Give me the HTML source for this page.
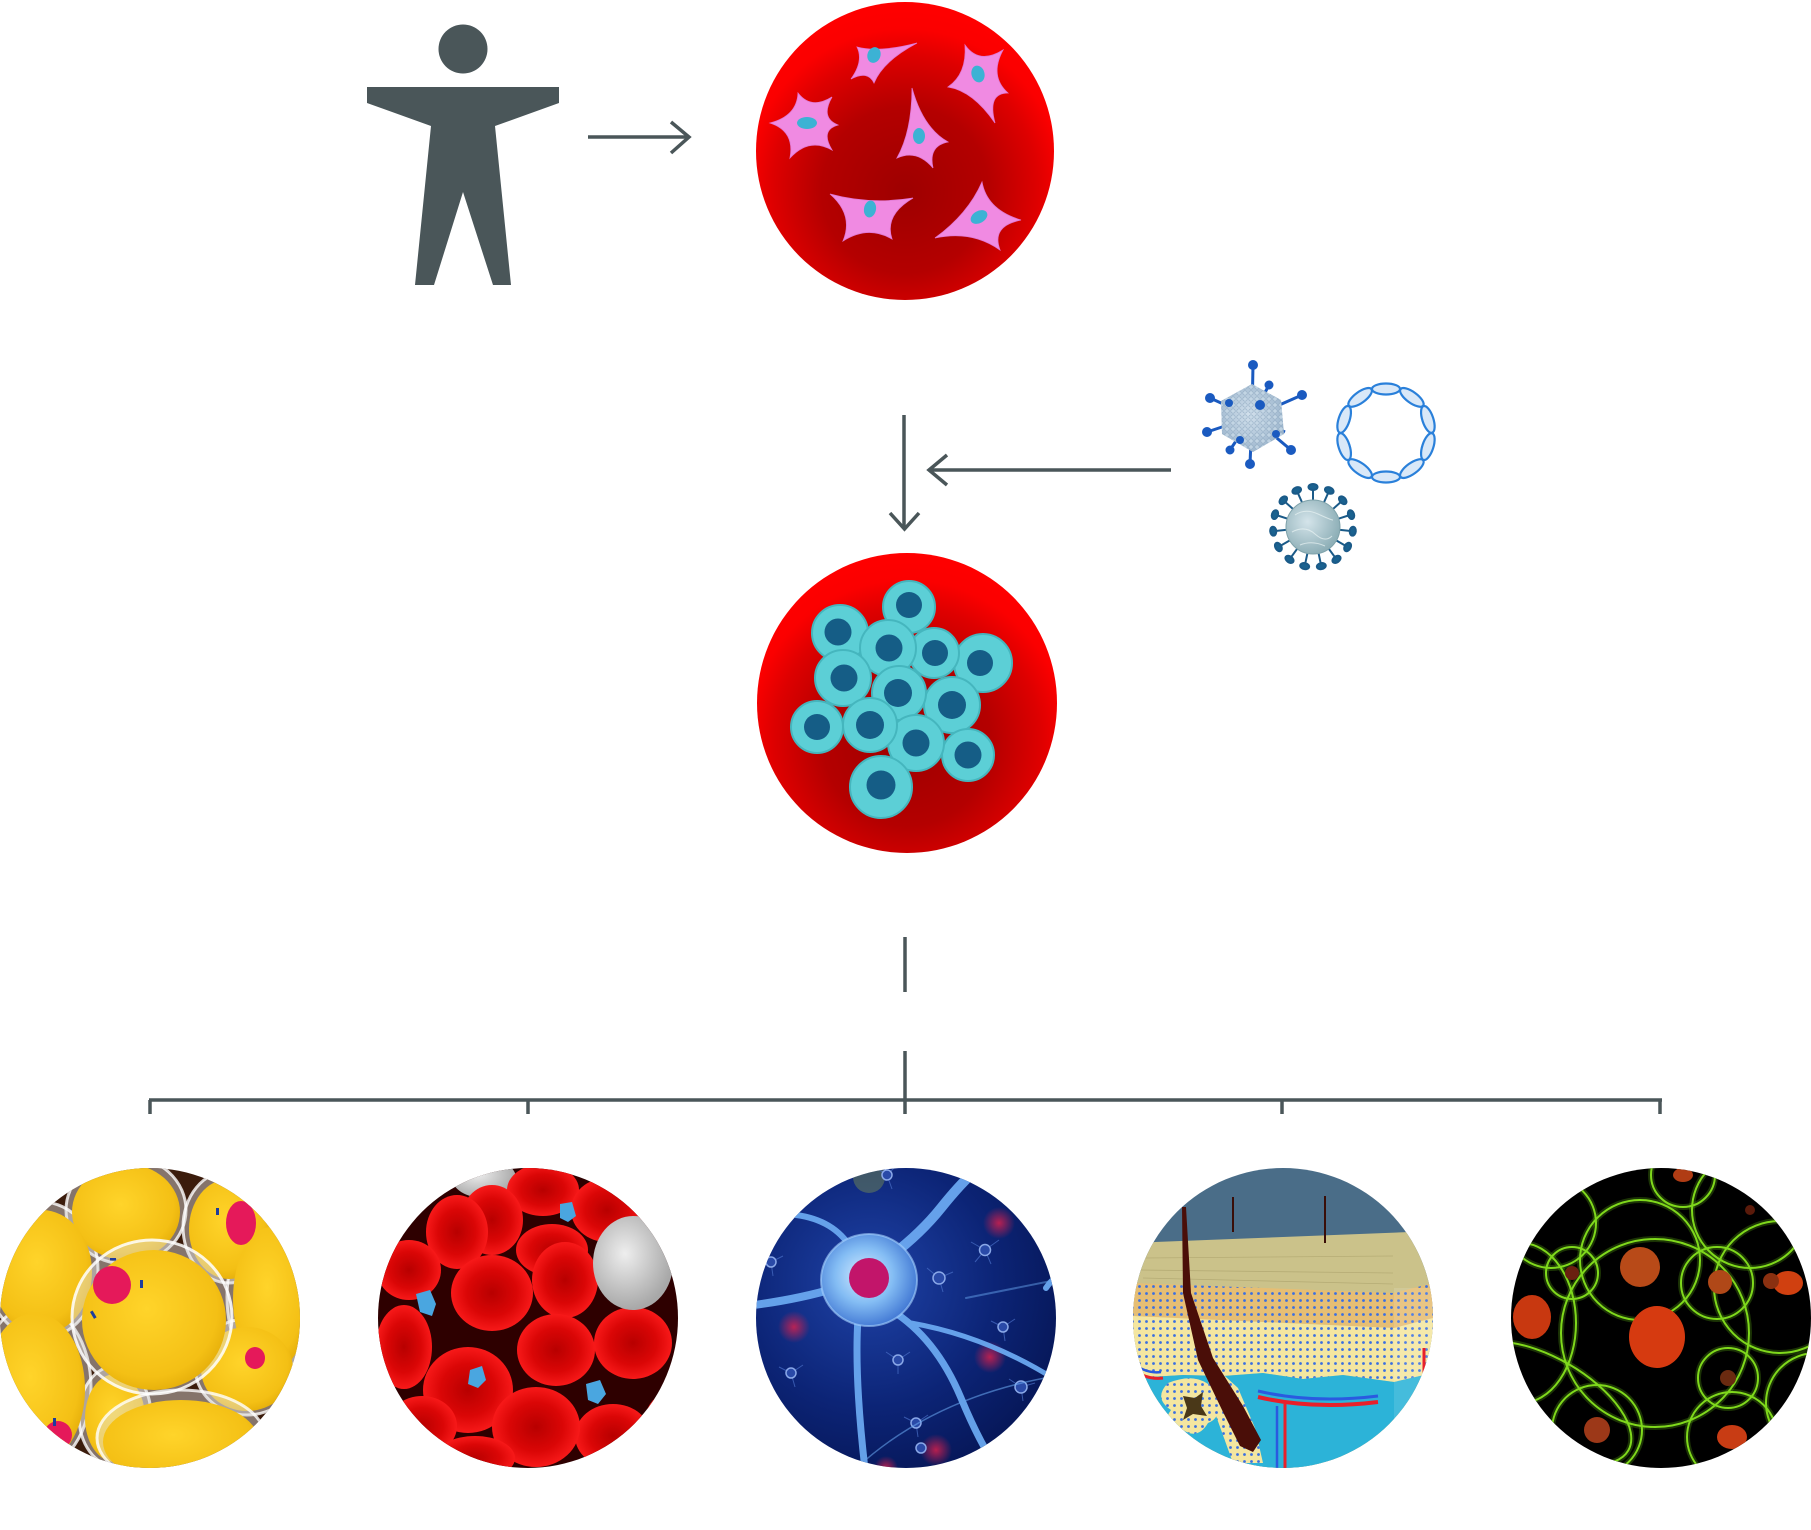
<!DOCTYPE html>
<html><head><meta charset="utf-8"><style>
html,body{margin:0;padding:0;background:#fff;width:1811px;height:1530px;overflow:hidden}
svg{display:block}
</style></head><body>
<svg width="1811" height="1530" viewBox="0 0 1811 1530" xmlns="http://www.w3.org/2000/svg">
<defs>
 <radialGradient id="redsphere" cx="0.5" cy="0.62" r="0.62" fx="0.5" fy="0.64">
  <stop offset="0" stop-color="#9e0000"/><stop offset="0.45" stop-color="#b40000"/>
  <stop offset="0.72" stop-color="#de0000"/><stop offset="0.86" stop-color="#fb0000"/><stop offset="1" stop-color="#ff0000"/>
 </radialGradient>
 <clipPath id="cc"><circle cx="0" cy="0" r="150"/></clipPath>
 <pattern id="dots" width="7" height="7" patternUnits="userSpaceOnUse"><circle cx="3.5" cy="3.5" r="1.4" fill="#3b6fe0"/></pattern>
 <radialGradient id="yel" cx="0.45" cy="0.42" r="0.65"><stop offset="0" stop-color="#ffd42a"/><stop offset="0.75" stop-color="#f4c015"/><stop offset="1" stop-color="#e0a806"/></radialGradient>
 <radialGradient id="rbc" cx="0.5" cy="0.5" r="0.55"><stop offset="0" stop-color="#b80000"/><stop offset="0.55" stop-color="#da0606"/><stop offset="1" stop-color="#ff1e1e"/></radialGradient>
 <radialGradient id="wbc" cx="0.4" cy="0.4" r="0.6"><stop offset="0" stop-color="#eeeeee"/><stop offset="1" stop-color="#a8a8a8"/></radialGradient>
 <radialGradient id="nbg" cx="0.38" cy="0.38" r="0.7"><stop offset="0" stop-color="#1f43a8"/><stop offset="0.6" stop-color="#0c2476"/><stop offset="1" stop-color="#061656"/></radialGradient>
 <radialGradient id="soma" cx="0.45" cy="0.45" r="0.6"><stop offset="0" stop-color="#d6ecff"/><stop offset="0.5" stop-color="#84bdf4"/><stop offset="1" stop-color="#3a70d0"/></radialGradient>
 <radialGradient id="glow" cx="0.5" cy="0.5" r="0.5"><stop offset="0" stop-color="#e0204a" stop-opacity="0.8"/><stop offset="1" stop-color="#e0204a" stop-opacity="0"/></radialGradient>
 <radialGradient id="vir" cx="0.4" cy="0.4" r="0.6"><stop offset="0" stop-color="#d4e4ea"/><stop offset="1" stop-color="#8fb0b8"/></radialGradient>
 <radialGradient id="adv" cx="0.45" cy="0.45" r="0.6"><stop offset="0" stop-color="#d2e0ec"/><stop offset="1" stop-color="#9ab4cc"/></radialGradient>
 <pattern id="advdots" width="6" height="6" patternUnits="userSpaceOnUse"><circle cx="3" cy="3" r="2.2" fill="#c6d8e6" stroke="#8aa4bc" stroke-width="0.6"/></pattern>
</defs>

<!-- Human figure -->
<circle cx="463" cy="49" r="24.5" fill="#4a5659"/>
<polygon points="367,87 559,87 559,103 495,126 511,285 493,285 463,192 434,285 415,285 431,126 367,103" fill="#4a5659"/>

<g stroke="#4a5659" stroke-width="3.5" fill="none">
 <line x1="588" y1="137" x2="689" y2="137"/>
 <polyline points="671,122 689,137 671,153"/>
 <line x1="904" y1="415" x2="904" y2="528"/>
 <polyline points="890,513 904.5,529 919,513"/>
 <line x1="930" y1="470" x2="1171" y2="470"/>
 <polyline points="947,455 929,470 947,485"/>
 <line x1="905" y1="937" x2="905" y2="992"/>
 <line x1="905" y1="1051" x2="905" y2="1100"/>
 <line x1="149" y1="1100" x2="1662" y2="1100"/>
 <line x1="150" y1="1100" x2="150" y2="1114"/>
 <line x1="528" y1="1100" x2="528" y2="1114"/>
 <line x1="905" y1="1100" x2="905" y2="1114"/>
 <line x1="1282" y1="1100" x2="1282" y2="1114"/>
 <line x1="1660" y1="1100" x2="1660" y2="1114"/>
</g>

<!-- top red sphere with stem cells -->
<circle cx="905" cy="151" r="149" fill="url(#redsphere)"/>
<g fill="#f08ae2" stroke="#e078d4" stroke-width="0.8">
 <path d="M857 47 Q879 53 917 43 Q883 61 874 83 Q868 70 851 79 Q864 61 857 47Z"/>
 <path d="M965 45 Q979 65 1003 50 Q989 76 1008 93 Q987 93 995 123 Q973 91 948 87 Q967 74 965 45Z"/>
 <path d="M798 93 Q811 110 832 97 Q820 118 838 125 Q820 130 832 150 Q809 137 790 158 Q795 131 770 123 Q797 116 798 93Z"/>
 <path d="M912 88 Q923 128 948 142 Q928 146 933 168 Q917 149 897 158 Q912 131 912 88Z"/>
 <path d="M830 194 Q870 205 913 198 Q884 215 892 239 Q868 225 843 241 Q854 215 830 194Z"/>
 <path d="M982 182 Q987 210 1021 220 Q991 226 1000 250 Q972 230 935 238 Q968 214 982 182Z"/>
</g>
<g fill="#3cb2d4">
 <ellipse cx="874" cy="55" rx="6.5" ry="8" transform="rotate(20 874 55)"/>
 <ellipse cx="978" cy="74" rx="6.5" ry="8.5" transform="rotate(-15 978 74)"/>
 <ellipse cx="807" cy="123" rx="10" ry="6"/>
 <ellipse cx="919" cy="136" rx="6" ry="8"/>
 <ellipse cx="870" cy="209" rx="6" ry="8.5" transform="rotate(10 870 209)"/>
 <ellipse cx="979" cy="217" rx="9" ry="6" transform="rotate(-30 979 217)"/>
</g>

<!-- second red sphere with cyan cells -->
<circle cx="907" cy="703" r="150" fill="url(#redsphere)"/>
<g fill="#5ccfd6" stroke="#45b6be" stroke-width="2">
 <circle cx="909" cy="607" r="26"/>
 <circle cx="840" cy="633" r="28"/>
 <circle cx="983" cy="663" r="29"/>
 <circle cx="934" cy="653" r="25"/>
 <circle cx="888" cy="648" r="28"/>
 <circle cx="843" cy="678" r="28"/>
 <circle cx="952" cy="705" r="28"/>
 <circle cx="899" cy="693" r="27"/>
 <circle cx="817" cy="727" r="26"/>
 <circle cx="968" cy="755" r="26"/>
 <circle cx="916" cy="743" r="28"/>
 <circle cx="870" cy="725" r="27"/>
 <circle cx="881" cy="787" r="31"/>
</g>
<g fill="#155d86">
 <circle cx="909" cy="605" r="13"/>
 <circle cx="838" cy="632" r="13.5"/>
 <circle cx="980" cy="663" r="13"/>
 <circle cx="935" cy="653" r="13"/>
 <circle cx="889" cy="648" r="13.5"/>
 <circle cx="844" cy="678" r="13.5"/>
 <circle cx="952" cy="705" r="14"/>
 <circle cx="898" cy="693" r="14"/>
 <circle cx="817" cy="727" r="13"/>
 <circle cx="968" cy="755" r="13.5"/>
 <circle cx="916" cy="743" r="13.5"/>
 <circle cx="870" cy="725" r="14"/>
 <circle cx="881" cy="785" r="14.5"/>
</g>

<!-- adenovirus -->
<g stroke="#1a5ac0" stroke-width="3" fill="#1a5ac0">
 <line x1="1252" y1="417" x2="1253" y2="365"/><circle cx="1253" cy="365" r="3.5"/>
 <line x1="1252" y1="417" x2="1302" y2="395"/><circle cx="1302" cy="395" r="3.5"/>
 <line x1="1252" y1="417" x2="1291" y2="450"/><circle cx="1291" cy="450" r="3.5"/>
 <line x1="1252" y1="417" x2="1250" y2="464"/><circle cx="1250" cy="464" r="3.5"/>
 <line x1="1252" y1="417" x2="1207" y2="432"/><circle cx="1207" cy="432" r="3.5"/>
 <line x1="1252" y1="417" x2="1210" y2="398"/><circle cx="1210" cy="398" r="3.5"/>
 <line x1="1252" y1="417" x2="1269" y2="385"/><circle cx="1269" cy="385" r="3"/>
 <line x1="1252" y1="417" x2="1230" y2="450"/><circle cx="1230" cy="450" r="3"/>
 <line x1="1252" y1="417" x2="1285" y2="432"/>
</g>
<polygon points="1252,384 1281,400 1284,434 1253,452 1222,434 1221,401" fill="url(#adv)"/>
<polygon points="1252,384 1281,400 1284,434 1253,452 1222,434 1221,401" fill="url(#advdots)" opacity="0.8"/>
<g fill="#1a5ac0"><circle cx="1260" cy="405" r="5"/><circle cx="1229" cy="403" r="4"/><circle cx="1276" cy="434" r="4"/><circle cx="1240" cy="440" r="4"/></g>

<!-- DNA plasmid ring -->
<g fill="rgba(42,127,216,0.18)" stroke="#2a80da" stroke-width="2.2">
 <ellipse cx="1386" cy="389" rx="14" ry="5.5" transform="rotate(0 1386 433)"/>
 <ellipse cx="1386" cy="389" rx="14" ry="5.5" transform="rotate(36 1386 433)"/>
 <ellipse cx="1386" cy="389" rx="14" ry="5.5" transform="rotate(72 1386 433)"/>
 <ellipse cx="1386" cy="389" rx="14" ry="5.5" transform="rotate(108 1386 433)"/>
 <ellipse cx="1386" cy="389" rx="14" ry="5.5" transform="rotate(144 1386 433)"/>
 <ellipse cx="1386" cy="389" rx="14" ry="5.5" transform="rotate(180 1386 433)"/>
 <ellipse cx="1386" cy="389" rx="14" ry="5.5" transform="rotate(216 1386 433)"/>
 <ellipse cx="1386" cy="389" rx="14" ry="5.5" transform="rotate(252 1386 433)"/>
 <ellipse cx="1386" cy="389" rx="14" ry="5.5" transform="rotate(288 1386 433)"/>
 <ellipse cx="1386" cy="389" rx="14" ry="5.5" transform="rotate(324 1386 433)"/>
</g>

<!-- second virus -->
<g stroke="#1a5a88" stroke-width="2" fill="#1a6290">
 <g transform="translate(1313 527)">
  <g><line x1="0" y1="-26" x2="0" y2="-38"/><ellipse cx="0" cy="-40" rx="4.5" ry="3"/></g>
  <g transform="rotate(24)"><line x1="0" y1="-26" x2="0" y2="-38"/><ellipse cx="0" cy="-40" rx="4.5" ry="3"/></g>
  <g transform="rotate(48)"><line x1="0" y1="-26" x2="0" y2="-38"/><ellipse cx="0" cy="-40" rx="4.5" ry="3"/></g>
  <g transform="rotate(72)"><line x1="0" y1="-26" x2="0" y2="-38"/><ellipse cx="0" cy="-40" rx="4.5" ry="3"/></g>
  <g transform="rotate(96)"><line x1="0" y1="-26" x2="0" y2="-38"/><ellipse cx="0" cy="-40" rx="4.5" ry="3"/></g>
  <g transform="rotate(120)"><line x1="0" y1="-26" x2="0" y2="-38"/><ellipse cx="0" cy="-40" rx="4.5" ry="3"/></g>
  <g transform="rotate(144)"><line x1="0" y1="-26" x2="0" y2="-38"/><ellipse cx="0" cy="-40" rx="4.5" ry="3"/></g>
  <g transform="rotate(168)"><line x1="0" y1="-26" x2="0" y2="-38"/><ellipse cx="0" cy="-40" rx="4.5" ry="3"/></g>
  <g transform="rotate(192)"><line x1="0" y1="-26" x2="0" y2="-38"/><ellipse cx="0" cy="-40" rx="4.5" ry="3"/></g>
  <g transform="rotate(216)"><line x1="0" y1="-26" x2="0" y2="-38"/><ellipse cx="0" cy="-40" rx="4.5" ry="3"/></g>
  <g transform="rotate(240)"><line x1="0" y1="-26" x2="0" y2="-38"/><ellipse cx="0" cy="-40" rx="4.5" ry="3"/></g>
  <g transform="rotate(264)"><line x1="0" y1="-26" x2="0" y2="-38"/><ellipse cx="0" cy="-40" rx="4.5" ry="3"/></g>
  <g transform="rotate(288)"><line x1="0" y1="-26" x2="0" y2="-38"/><ellipse cx="0" cy="-40" rx="4.5" ry="3"/></g>
  <g transform="rotate(312)"><line x1="0" y1="-26" x2="0" y2="-38"/><ellipse cx="0" cy="-40" rx="4.5" ry="3"/></g>
  <g transform="rotate(336)"><line x1="0" y1="-26" x2="0" y2="-38"/><ellipse cx="0" cy="-40" rx="4.5" ry="3"/></g>
 </g>
</g>
<circle cx="1313" cy="527" r="27" fill="url(#vir)" stroke="#7fa2aa" stroke-width="1"/>
<g fill="none" stroke="#eaf4f4" stroke-width="1" opacity="0.7">
 <path d="M1295 515 Q1305 508 1318 514 T1333 520"/><path d="M1292 532 Q1305 525 1315 534 T1332 536"/><path d="M1300 545 Q1312 540 1325 546"/>
</g>

<!-- Bottom circle 1: fat cells -->
<g transform="translate(150 1318)" clip-path="url(#cc)">
 <rect x="-150" y="-150" width="300" height="300" fill="#3b1c0c"/>
 <g stroke="rgba(255,255,255,0.8)" stroke-width="3" fill="rgba(225,225,225,0.45)">
  <ellipse cx="-24" cy="-108" rx="60" ry="54"/>
  <ellipse cx="79" cy="-91" rx="46" ry="56"/>
  <ellipse cx="-108" cy="-48" rx="56" ry="68"/>
  <ellipse cx="121" cy="-21" rx="44" ry="78"/>
  <ellipse cx="-115" cy="69" rx="56" ry="82"/>
  <ellipse cx="-35" cy="98" rx="36" ry="50"/>
  <ellipse cx="97" cy="49" rx="52" ry="48"/>
 </g>
 <g fill="url(#yel)">
  <ellipse cx="-24" cy="-106" rx="54" ry="48"/>
  <ellipse cx="79" cy="-89" rx="40" ry="50"/>
  <ellipse cx="-108" cy="-46" rx="50" ry="62"/>
  <ellipse cx="121" cy="-19" rx="38" ry="72"/>
  <ellipse cx="-115" cy="71" rx="50" ry="76"/>
  <ellipse cx="-35" cy="100" rx="30" ry="44"/>
  <ellipse cx="97" cy="51" rx="46" ry="42"/>
 </g>
 <ellipse cx="91" cy="-95" rx="15" ry="22" fill="#e5195a"/>
 <ellipse cx="105" cy="40" rx="10" ry="11" fill="#e5195a"/>
 <ellipse cx="-92" cy="117" rx="14" ry="14" fill="#e5195a"/>
 <ellipse cx="31" cy="120" rx="84" ry="48" fill="rgba(225,225,225,0.45)" stroke="rgba(255,255,255,0.8)" stroke-width="3"/>
 <ellipse cx="31" cy="124" rx="78" ry="42" fill="url(#yel)"/>
 <ellipse cx="2" cy="-1" rx="80" ry="77" fill="rgba(225,225,225,0.45)" stroke="rgba(255,255,255,0.85)" stroke-width="3"/>
 <ellipse cx="4" cy="2" rx="72" ry="70" fill="url(#yel)"/>
 <circle cx="-38" cy="-33" r="19" fill="#e5195a"/>
 <g fill="#1e3c9c">
  <rect x="-60" y="-6" width="3" height="8" transform="rotate(-30 -60 -6)"/>
  <rect x="-10" y="-38" width="3" height="8"/>
  <rect x="66" y="-110" width="3" height="7"/>
  <rect x="-97" y="100" width="3" height="8"/>
  <rect x="-40" y="-60" width="6" height="2.5"/>
 </g>
</g>

<!-- Bottom circle 2: blood -->
<g transform="translate(528 1318)" clip-path="url(#cc)">
 <rect x="-150" y="-150" width="300" height="300" fill="#2e0000"/>
 <ellipse cx="-44" cy="-140" rx="32" ry="20" fill="url(#wbc)"/>
 <g fill="url(#rbc)">
  <ellipse cx="15" cy="-128" rx="36" ry="26"/>
  <ellipse cx="79" cy="-108" rx="36" ry="32"/>
  <ellipse cx="-36" cy="-98" rx="31" ry="35"/>
  <ellipse cx="-71" cy="-86" rx="31" ry="37"/>
  <ellipse cx="24" cy="-68" rx="36" ry="26"/>
  <ellipse cx="-119" cy="-48" rx="32" ry="30"/>
  <ellipse cx="37" cy="-38" rx="33" ry="38"/>
  <ellipse cx="-36" cy="-25" rx="41" ry="38"/>
  <ellipse cx="-124" cy="29" rx="28" ry="42"/>
  <ellipse cx="105" cy="25" rx="39" ry="36"/>
  <ellipse cx="28" cy="32" rx="39" ry="36"/>
  <ellipse cx="-60" cy="72" rx="45" ry="43"/>
  <ellipse cx="-106" cy="108" rx="35" ry="30"/>
  <ellipse cx="138" cy="108" rx="22" ry="32"/>
  <ellipse cx="85" cy="118" rx="38" ry="32"/>
  <ellipse cx="8" cy="109" rx="44" ry="40"/>
  <ellipse cx="-53" cy="140" rx="40" ry="22"/>
 </g>
 <ellipse cx="105" cy="-55" rx="40" ry="47" fill="url(#wbc)"/>
 <g fill="#4aa6e0">
  <polygon points="-112,-24 -98,-28 -92,-14 -96,-2 -108,-6"/>
  <polygon points="-58,52 -46,48 -42,62 -50,70 -60,66"/>
  <polygon points="58,66 72,62 78,76 70,86 60,82"/>
  <polygon points="32,-114 44,-116 48,-102 40,-96 32,-100"/>
 </g>
</g>

<!-- Bottom circle 3: neuron -->
<g transform="translate(906 1318)" clip-path="url(#cc)">
 <rect x="-150" y="-150" width="300" height="300" fill="url(#nbg)"/>
 <circle cx="-37" cy="-141" r="16" fill="#9ab040" opacity="0.35"/>
 <g fill="url(#glow)">
  <circle cx="93" cy="-95" r="16"/><circle cx="-112" cy="9" r="16"/><circle cx="84" cy="39" r="16"/><circle cx="30" cy="132" r="16"/><circle cx="-20" cy="150" r="12"/>
 </g>
 <g stroke="#4a70c8" stroke-width="1" fill="none" opacity="0.7">
  <path d="M-19 -143 l-15 -10 M-19 -143 l12 -12 M-19 -143 l5 14"/>
  <path d="M79 -68 l-14 -8 M79 -68 l14 -10 M79 -68 l6 14 M79 -68 l-10 12"/>
  <path d="M33 -40 l-12 -10 M33 -40 l14 -6 M33 -40 l4 14"/>
  <path d="M-135 -56 l-10 -10 M-135 -56 l12 -6 M-135 -56 l2 14"/>
  <path d="M-8 42 l-12 -8 M-8 42 l12 -8 M-8 42 l0 14"/>
  <path d="M-115 55 l-12 -6 M-115 55 l12 -8 M-115 55 l4 14"/>
  <path d="M115 69 l-12 -8 M115 69 l14 -4 M115 69 l2 14"/>
  <path d="M10 105 l-12 -6 M10 105 l12 -8 M10 105 l2 14"/>
  <path d="M97 9 l-12 -6 M97 9 l12 -8 M97 9 l2 14"/>
 </g>
 <g fill="#2a4aa8" stroke="#8aa8e8" stroke-width="1.5">
  <circle cx="-19" cy="-143" r="5"/><circle cx="79" cy="-68" r="5.5"/><circle cx="33" cy="-40" r="6"/><circle cx="-135" cy="-56" r="5"/>
  <circle cx="-8" cy="42" r="5"/><circle cx="-115" cy="55" r="5"/><circle cx="115" cy="69" r="6"/><circle cx="10" cy="105" r="5"/><circle cx="15" cy="130" r="5"/><circle cx="97" cy="9" r="5"/>
 </g>
 <g fill="none" stroke="#6aa8f0" stroke-linecap="round" opacity="0.95">
  <path d="M-15 -62 Q15 -85 35 -110 T72 -150" stroke-width="10"/>
  <path d="M-70 -30 Q-110 -18 -160 -12" stroke-width="8"/>
  <path d="M-55 -70 Q-72 -98 -110 -103" stroke-width="6"/>
  <path d="M-48 0 Q-52 60 -40 160" stroke-width="7"/>
  <path d="M-15 -8 Q30 20 55 80 T100 160" stroke-width="7"/>
  <path d="M5 5 Q80 18 150 62" stroke-width="5"/>
  <path d="M-60 160 Q20 80 150 58" stroke-width="1.5" opacity="0.6"/>
  <path d="M60 -20 Q110 -30 160 -40" stroke-width="2" opacity="0.5"/>
  <path d="M140 -30 Q150 -45 160 -40" stroke-width="6"/>
 </g>
 <ellipse cx="-37" cy="-38" rx="48" ry="46" fill="url(#soma)" stroke="#a8d4ff" stroke-width="2" stroke-opacity="0.6"/>
 <circle cx="-37" cy="-40" r="20" fill="#c2156a"/>
</g>

<!-- Bottom circle 4: skin -->
<g transform="translate(1283 1318)" clip-path="url(#cc)">
 <rect x="-150" y="-150" width="300" height="300" fill="#4a6d88"/>
 <polygon points="-150,-72 -128,-76 127,-86 150,-82 150,150 -150,150" fill="#cbc28a"/>
 <g stroke="#a89e68" stroke-width="0.8" opacity="0.6">
  <line x1="-140" y1="-60" x2="110" y2="-62"/><line x1="-145" y1="-48" x2="110" y2="-45"/><line x1="-140" y1="-40" x2="110" y2="-34"/>
 </g>
 <polygon points="-150,-35 111,-25 150,-35 150,10 111,10 -150,-2" fill="#e6be74"/>
 <polygon points="-150,-35 111,-25 150,-35 150,10 111,10 -150,-2" fill="url(#dots)"/>
 <polygon points="-150,-2 111,10 150,0 150,55 111,64 60,57 20,61 -20,55 -60,58 -100,57 -150,60" fill="#f4e6a0"/>
 <polygon points="-150,-2 111,10 150,0 150,55 111,64 60,57 20,61 -20,55 -60,58 -100,57 -150,60" fill="url(#dots)"/>
 <polygon points="-150,60 -100,57 -60,58 -20,55 20,61 60,57 111,64 150,55 150,150 -150,150" fill="#2cb3d8"/>
 <rect x="111" y="-30" width="40" height="180" fill="#ffffff" opacity="0.12"/>
 <path d="M-115 65 Q-130 80 -112 92 Q-125 110 -100 112 Q-85 122 -75 105 Q-62 100 -66 85 Q-58 70 -75 66 Q-90 55 -115 65Z" fill="#f4e6a0"/>
 <path d="M-115 65 Q-130 80 -112 92 Q-125 110 -100 112 Q-85 122 -75 105 Q-62 100 -66 85 Q-58 70 -75 66 Q-90 55 -115 65Z" fill="url(#dots)"/>
 <path d="M-100 78 L-88 80 L-80 74 L-82 88 L-76 98 L-90 96 L-100 102 L-96 90Z" fill="#4a3818"/>
 <polygon points="-80,38 -45,70 -28,110 -20,145 -50,145 -68,95" fill="#f4e6a0"/>
 <polygon points="-80,38 -45,70 -28,110 -20,145 -50,145 -68,95" fill="url(#dots)"/>
 <polygon points="-101,-111 -100,-25 -85,42 -60,94 -43,128 -30,134 -22,122 -40,88 -70,40 -92,-25 -97,-111" fill="#4a0e08"/>
 <line x1="-50" y1="-121" x2="-50" y2="-86" stroke="#3a0e08" stroke-width="2"/>
 <line x1="42" y1="-122" x2="42" y2="-75" stroke="#3a0e08" stroke-width="2"/>
 <path d="M-25 73 Q30 86 95 78" fill="none" stroke="#2a5ae0" stroke-width="3"/>
 <path d="M-25 79 Q30 92 95 84" fill="none" stroke="#e8202a" stroke-width="4"/>
 <line x1="2" y1="86" x2="2" y2="150" stroke="#e8202a" stroke-width="3"/>
 <line x1="-6" y1="88" x2="-6" y2="150" stroke="#2a5ae0" stroke-width="2.5"/>
 <path d="M-150 52 Q-135 62 -120 60" fill="none" stroke="#e8202a" stroke-width="3"/>
 <path d="M-150 46 Q-135 56 -122 54" fill="none" stroke="#2a5ae0" stroke-width="2.5"/>
 <line x1="141" y1="30" x2="141" y2="70" stroke="#e8202a" stroke-width="3"/>
</g>

<!-- Bottom circle 5: green cells -->
<g transform="translate(1661 1318)" clip-path="url(#cc)">
 <rect x="-150" y="-150" width="300" height="300" fill="#000"/>
 <g fill="none" stroke="#5aaa10" stroke-width="6" stroke-opacity="0.3">
  <circle cx="89" cy="-108" r="58"/><circle cx="22" cy="-143" r="32"/><circle cx="119" cy="-31" r="66"/>
  <ellipse cx="-140" cy="5" rx="55" ry="80"/><circle cx="-110" cy="-95" r="45"/><circle cx="-89" cy="-45" r="26"/>
  <circle cx="-21" cy="-58" r="60"/><circle cx="56" cy="-35" r="36"/><circle cx="-6" cy="15" r="94"/>
  <circle cx="-64" cy="112" r="45"/><circle cx="67" cy="60" r="30"/><circle cx="71" cy="119" r="45"/>
  <ellipse cx="-115" cy="85" rx="95" ry="45" transform="rotate(30 -115 85)"/><circle cx="155" cy="85" r="50"/>
 </g>
 <g fill="none" stroke="#7fd81c" stroke-width="2">
  <circle cx="89" cy="-108" r="58"/><circle cx="22" cy="-143" r="32"/><circle cx="119" cy="-31" r="66"/>
  <ellipse cx="-140" cy="5" rx="55" ry="80"/><circle cx="-110" cy="-95" r="45"/><circle cx="-89" cy="-45" r="26"/>
  <circle cx="-21" cy="-58" r="60"/><circle cx="56" cy="-35" r="36"/><circle cx="-6" cy="15" r="94"/>
  <circle cx="-64" cy="112" r="45"/><circle cx="67" cy="60" r="30"/><circle cx="71" cy="119" r="45"/>
  <ellipse cx="-115" cy="85" rx="95" ry="45" transform="rotate(30 -115 85)"/><circle cx="155" cy="85" r="50"/>
 </g>
 <ellipse cx="-4" cy="19" rx="28" ry="31" fill="#d63a10"/>
 <circle cx="-21" cy="-51" r="20" fill="#b84a18"/>
 <circle cx="59" cy="-36" r="12" fill="#b04818"/>
 <ellipse cx="127" cy="-35" rx="15" ry="12" fill="#d04010"/>
 <ellipse cx="-129" cy="-1" rx="19" ry="22" fill="#c83810"/>
 <circle cx="-64" cy="112" r="13" fill="#9c3818"/>
 <ellipse cx="71" cy="119" rx="15" ry="12" fill="#c83c14"/>
 <circle cx="-89" cy="-45" r="7" fill="#6a2010"/>
 <ellipse cx="22" cy="-143" rx="10" ry="7" fill="#b03c14"/>
 <circle cx="89" cy="-108" r="5" fill="#5a1a0a"/>
 <circle cx="67" cy="60" r="8" fill="#6a2a10"/>
 <circle cx="110" cy="-37" r="8" fill="#8a3010"/>
</g>
</svg>
</body></html>
